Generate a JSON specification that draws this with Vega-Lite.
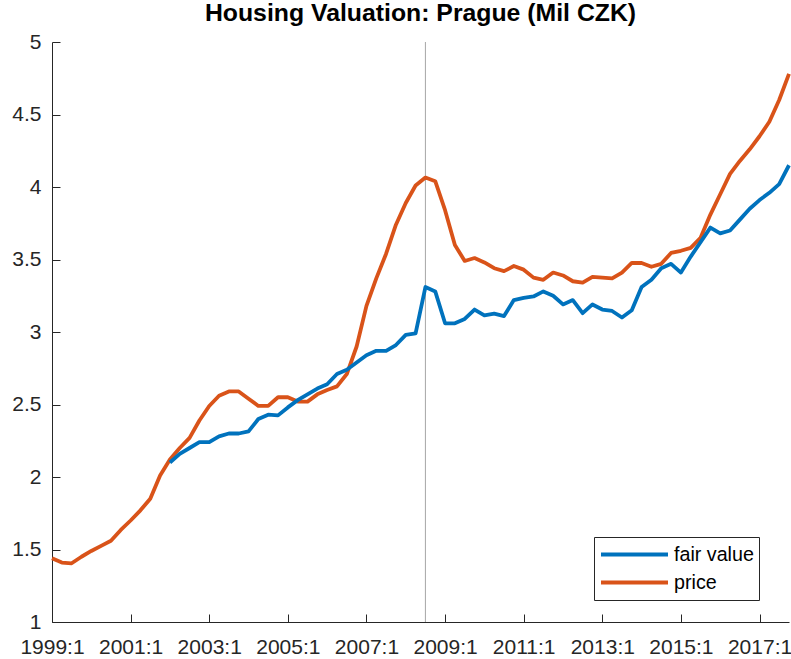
{
  "$schema": "https://vega.github.io/schema/vega-lite/v6.json",
  "width": 737,
  "height": 580,
  "autosize": {"type": "none"},
  "padding": {"left": 52, "top": 42, "right": 2, "bottom": 37},
  "background": "white",
  "config": {"font": "Liberation Sans", "view": {"stroke": null}},
  "title": {"text": "Housing Valuation: Prague (Mil CZK)", "fontSize": 24.8, "fontWeight": "bold", "color": "#000000", "anchor": "middle", "frame": "group", "baseline": "alphabetic", "offset": -15},
  "datasets": {
    "series": [
      {"t": 1999.0, "series": "price", "value": 1.44},
      {"t": 1999.25, "series": "price", "value": 1.41},
      {"t": 1999.5, "series": "price", "value": 1.405},
      {"t": 1999.75, "series": "price", "value": 1.45},
      {"t": 2000.0, "series": "price", "value": 1.49},
      {"t": 2000.25, "series": "price", "value": 1.525},
      {"t": 2000.5, "series": "price", "value": 1.56},
      {"t": 2000.75, "series": "price", "value": 1.635},
      {"t": 2001.0, "series": "price", "value": 1.70},
      {"t": 2001.25, "series": "price", "value": 1.77},
      {"t": 2001.5, "series": "price", "value": 1.85},
      {"t": 2001.75, "series": "price", "value": 2.01},
      {"t": 2002.0, "series": "price", "value": 2.12},
      {"t": 2002.25, "series": "price", "value": 2.20},
      {"t": 2002.5, "series": "price", "value": 2.27},
      {"t": 2002.75, "series": "price", "value": 2.39},
      {"t": 2003.0, "series": "price", "value": 2.49},
      {"t": 2003.25, "series": "price", "value": 2.56},
      {"t": 2003.5, "series": "price", "value": 2.59},
      {"t": 2003.75, "series": "price", "value": 2.59},
      {"t": 2004.0, "series": "price", "value": 2.54},
      {"t": 2004.25, "series": "price", "value": 2.49},
      {"t": 2004.5, "series": "price", "value": 2.49},
      {"t": 2004.75, "series": "price", "value": 2.55},
      {"t": 2005.0, "series": "price", "value": 2.55},
      {"t": 2005.25, "series": "price", "value": 2.52},
      {"t": 2005.5, "series": "price", "value": 2.52},
      {"t": 2005.75, "series": "price", "value": 2.57},
      {"t": 2006.0, "series": "price", "value": 2.60},
      {"t": 2006.25, "series": "price", "value": 2.625},
      {"t": 2006.5, "series": "price", "value": 2.71},
      {"t": 2006.75, "series": "price", "value": 2.90},
      {"t": 2007.0, "series": "price", "value": 3.18},
      {"t": 2007.25, "series": "price", "value": 3.37},
      {"t": 2007.5, "series": "price", "value": 3.54},
      {"t": 2007.75, "series": "price", "value": 3.74},
      {"t": 2008.0, "series": "price", "value": 3.89},
      {"t": 2008.25, "series": "price", "value": 4.01},
      {"t": 2008.5, "series": "price", "value": 4.065},
      {"t": 2008.75, "series": "price", "value": 4.04},
      {"t": 2009.0, "series": "price", "value": 3.84},
      {"t": 2009.25, "series": "price", "value": 3.60},
      {"t": 2009.5, "series": "price", "value": 3.49},
      {"t": 2009.75, "series": "price", "value": 3.51},
      {"t": 2010.0, "series": "price", "value": 3.48},
      {"t": 2010.25, "series": "price", "value": 3.44},
      {"t": 2010.5, "series": "price", "value": 3.42},
      {"t": 2010.75, "series": "price", "value": 3.455},
      {"t": 2011.0, "series": "price", "value": 3.43},
      {"t": 2011.25, "series": "price", "value": 3.375},
      {"t": 2011.5, "series": "price", "value": 3.36},
      {"t": 2011.75, "series": "price", "value": 3.41},
      {"t": 2012.0, "series": "price", "value": 3.39},
      {"t": 2012.25, "series": "price", "value": 3.35},
      {"t": 2012.5, "series": "price", "value": 3.34},
      {"t": 2012.75, "series": "price", "value": 3.38},
      {"t": 2013.0, "series": "price", "value": 3.375},
      {"t": 2013.25, "series": "price", "value": 3.37},
      {"t": 2013.5, "series": "price", "value": 3.41},
      {"t": 2013.75, "series": "price", "value": 3.476},
      {"t": 2014.0, "series": "price", "value": 3.476},
      {"t": 2014.25, "series": "price", "value": 3.45},
      {"t": 2014.5, "series": "price", "value": 3.47},
      {"t": 2014.75, "series": "price", "value": 3.545},
      {"t": 2015.0, "series": "price", "value": 3.56},
      {"t": 2015.25, "series": "price", "value": 3.58},
      {"t": 2015.5, "series": "price", "value": 3.65},
      {"t": 2015.75, "series": "price", "value": 3.81},
      {"t": 2016.0, "series": "price", "value": 3.95},
      {"t": 2016.25, "series": "price", "value": 4.09},
      {"t": 2016.5, "series": "price", "value": 4.18},
      {"t": 2016.75, "series": "price", "value": 4.26},
      {"t": 2017.0, "series": "price", "value": 4.35},
      {"t": 2017.25, "series": "price", "value": 4.45},
      {"t": 2017.5, "series": "price", "value": 4.60},
      {"t": 2017.75, "series": "price", "value": 4.78},
      {"t": 2002.0, "series": "fair value", "value": 2.10},
      {"t": 2002.25, "series": "fair value", "value": 2.16},
      {"t": 2002.5, "series": "fair value", "value": 2.20},
      {"t": 2002.75, "series": "fair value", "value": 2.24},
      {"t": 2003.0, "series": "fair value", "value": 2.24},
      {"t": 2003.25, "series": "fair value", "value": 2.28},
      {"t": 2003.5, "series": "fair value", "value": 2.30},
      {"t": 2003.75, "series": "fair value", "value": 2.30},
      {"t": 2004.0, "series": "fair value", "value": 2.315},
      {"t": 2004.25, "series": "fair value", "value": 2.40},
      {"t": 2004.5, "series": "fair value", "value": 2.43},
      {"t": 2004.75, "series": "fair value", "value": 2.425},
      {"t": 2005.0, "series": "fair value", "value": 2.48},
      {"t": 2005.25, "series": "fair value", "value": 2.53},
      {"t": 2005.5, "series": "fair value", "value": 2.57},
      {"t": 2005.75, "series": "fair value", "value": 2.61},
      {"t": 2006.0, "series": "fair value", "value": 2.64},
      {"t": 2006.25, "series": "fair value", "value": 2.71},
      {"t": 2006.5, "series": "fair value", "value": 2.74},
      {"t": 2006.75, "series": "fair value", "value": 2.79},
      {"t": 2007.0, "series": "fair value", "value": 2.84},
      {"t": 2007.25, "series": "fair value", "value": 2.87},
      {"t": 2007.5, "series": "fair value", "value": 2.87},
      {"t": 2007.75, "series": "fair value", "value": 2.91},
      {"t": 2008.0, "series": "fair value", "value": 2.98},
      {"t": 2008.25, "series": "fair value", "value": 2.99},
      {"t": 2008.5, "series": "fair value", "value": 3.31},
      {"t": 2008.75, "series": "fair value", "value": 3.28},
      {"t": 2009.0, "series": "fair value", "value": 3.06},
      {"t": 2009.25, "series": "fair value", "value": 3.06},
      {"t": 2009.5, "series": "fair value", "value": 3.09},
      {"t": 2009.75, "series": "fair value", "value": 3.155},
      {"t": 2010.0, "series": "fair value", "value": 3.115},
      {"t": 2010.25, "series": "fair value", "value": 3.127},
      {"t": 2010.5, "series": "fair value", "value": 3.11},
      {"t": 2010.75, "series": "fair value", "value": 3.22},
      {"t": 2011.0, "series": "fair value", "value": 3.235},
      {"t": 2011.25, "series": "fair value", "value": 3.245},
      {"t": 2011.5, "series": "fair value", "value": 3.28},
      {"t": 2011.75, "series": "fair value", "value": 3.25},
      {"t": 2012.0, "series": "fair value", "value": 3.19},
      {"t": 2012.25, "series": "fair value", "value": 3.22},
      {"t": 2012.5, "series": "fair value", "value": 3.13},
      {"t": 2012.75, "series": "fair value", "value": 3.19},
      {"t": 2013.0, "series": "fair value", "value": 3.155},
      {"t": 2013.25, "series": "fair value", "value": 3.145},
      {"t": 2013.5, "series": "fair value", "value": 3.10},
      {"t": 2013.75, "series": "fair value", "value": 3.15},
      {"t": 2014.0, "series": "fair value", "value": 3.31},
      {"t": 2014.25, "series": "fair value", "value": 3.36},
      {"t": 2014.5, "series": "fair value", "value": 3.44},
      {"t": 2014.75, "series": "fair value", "value": 3.47},
      {"t": 2015.0, "series": "fair value", "value": 3.41},
      {"t": 2015.25, "series": "fair value", "value": 3.52},
      {"t": 2015.5, "series": "fair value", "value": 3.62},
      {"t": 2015.75, "series": "fair value", "value": 3.72},
      {"t": 2016.0, "series": "fair value", "value": 3.68},
      {"t": 2016.25, "series": "fair value", "value": 3.70},
      {"t": 2016.5, "series": "fair value", "value": 3.775},
      {"t": 2016.75, "series": "fair value", "value": 3.85},
      {"t": 2017.0, "series": "fair value", "value": 3.91},
      {"t": 2017.25, "series": "fair value", "value": 3.96},
      {"t": 2017.5, "series": "fair value", "value": 4.02},
      {"t": 2017.75, "series": "fair value", "value": 4.15}
    ],
    "marker": [{"t": 2008.5}]
  },
  "layer": [
    {
      "data": {"name": "marker"},
      "mark": {"type": "rule", "color": "#a6a6a6", "strokeWidth": 1},
      "encoding": {
        "x": {"field": "t", "type": "quantitative", "scale": {"domain": [1999, 2017.75], "nice": false, "zero": false}}
      }
    },
    {
      "data": {"name": "series"},
      "mark": {"type": "line", "strokeWidth": 3.8, "strokeJoin": "round", "strokeCap": "butt"},
      "encoding": {
        "x": {
          "field": "t", "type": "quantitative",
          "scale": {"domain": [1999, 2017.75], "nice": false, "zero": false},
          "axis": {
            "title": null, "grid": false,
            "values": [1999, 2001, 2003, 2005, 2007, 2009, 2011, 2013, 2015, 2017],
            "labelExpr": "datum.value + ':1'",
            "labelFlush": false, "labelOverlap": false,
            "tickSize": -8, "tickColor": "#262626", "tickWidth": 1,
            "domainColor": "#262626", "domainWidth": 1,
            "labelFontSize": 21, "labelColor": "#262626", "labelPadding": 22
          }
        },
        "y": {
          "field": "value", "type": "quantitative",
          "scale": {"domain": [1, 5], "nice": false, "zero": false},
          "axis": {
            "title": null, "grid": false,
            "values": [1, 1.5, 2, 2.5, 3, 3.5, 4, 4.5, 5],
            "format": "~g",
            "labelFlush": false, "labelOverlap": false,
            "tickSize": -8, "tickColor": "#262626", "tickWidth": 1,
            "domainColor": "#262626", "domainWidth": 1,
            "labelFontSize": 21, "labelColor": "#262626", "labelPadding": 19
          }
        },
        "color": {
          "field": "series", "type": "nominal",
          "scale": {"domain": ["fair value", "price"], "range": ["#0072BD", "#D95319"]},
          "legend": {
            "title": null, "orient": "none", "legendX": 542, "legendY": 495,
            "direction": "vertical",
            "symbolType": "stroke", "symbolSize": 4489, "symbolStrokeWidth": 4,
            "clipHeight": 25, "rowPadding": 3, "padding": 5,
            "labelFontSize": 19.7, "labelColor": "#000000", "labelOffset": 4,
            "strokeColor": "#262626", "fillColor": "white"
          }
        }
      }
    }
  ]
}
